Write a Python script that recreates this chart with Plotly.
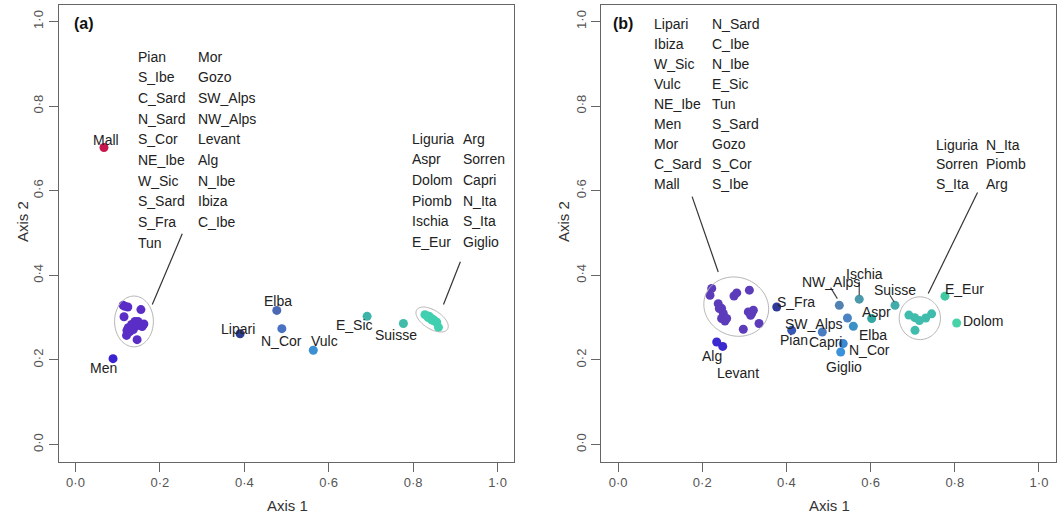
import math
import plotly.graph_objects as go

# ---------------- Panel (a) data ----------------
# western cluster (names listed in the two-column key)
A_WEST_NAMES = ["Pian", "S_Ibe", "C_Sard", "N_Sard", "S_Cor", "NE_Ibe", "W_Sic", "S_Sard", "S_Fra", "Tun",
                "Mor", "Gozo", "SW_Alps", "NW_Alps", "Levant", "Alg", "N_Ibe", "Ibiza", "C_Ibe"]
A_WEST_X = [0.113, 0.124, 0.155, 0.115, 0.141, 0.133, 0.153, 0.162, 0.125, 0.121,
            0.146, 0.137, 0.143, 0.129, 0.148, 0.117, 0.122, 0.158, 0.139]
A_WEST_Y = [0.329, 0.325, 0.319, 0.302, 0.291, 0.284, 0.284, 0.285, 0.276, 0.258,
            0.248, 0.272, 0.280, 0.267, 0.291, 0.327, 0.270, 0.279, 0.278]

# eastern cluster
A_EAST_NAMES = ["Liguria", "Aspr", "Dolom", "Piomb", "Ischia", "E_Eur",
                "Arg", "Sorren", "Capri", "N_Ita", "S_Ita", "Giglio"]
A_EAST_X = [0.828, 0.836, 0.840, 0.845, 0.850, 0.856, 0.860, 0.833, 0.842, 0.852, 0.838, 0.847]
A_EAST_Y = [0.307, 0.300, 0.300, 0.294, 0.293, 0.289, 0.277, 0.304, 0.298, 0.291, 0.303, 0.296]

# individually labelled populations
A_SINGLE_NAMES = ["Mall", "Men", "Lipari", "Elba", "N_Cor", "Vulc", "E_Sic", "Suisse"]
A_SINGLE_X = [0.0675, 0.089, 0.390, 0.477, 0.489, 0.5635, 0.691, 0.777]
A_SINGLE_Y = [0.702, 0.203, 0.262, 0.317, 0.274, 0.223, 0.303, 0.286]
A_SINGLE_COLORS = ["#c8184e", "#3a22d2", "#2c3c94", "#4a68b4", "#4a72c2", "#3a90d2", "#3fb4a8", "#40bca8"]

# ---------------- Panel (b) data ----------------
B_WEST_NAMES = ["Lipari", "Ibiza", "W_Sic", "Vulc", "NE_Ibe", "Men", "Mor", "C_Sard", "Mall",
                "N_Sard", "C_Ibe", "N_Ibe", "E_Sic", "Tun", "S_Sard", "Gozo", "S_Cor", "S_Ibe"]
B_WEST_X = [0.2226, 0.2185, 0.238, 0.246, 0.250, 0.254, 0.246, 0.2755, 0.282,
            0.312, 0.3095, 0.3175, 0.3215, 0.335, 0.2976, 0.2406, 0.258, 0.315]
B_WEST_Y = [0.369, 0.353, 0.333, 0.322, 0.310, 0.292, 0.298, 0.351, 0.3585,
            0.365, 0.3135, 0.310, 0.3175, 0.286, 0.2725, 0.3216, 0.298, 0.3057]

B_EAST_NAMES = ["Liguria", "Sorren", "S_Ita", "N_Ita", "Piomb", "Arg"]
B_EAST_X = [0.691, 0.705, 0.716, 0.731, 0.745, 0.7055]
B_EAST_Y = [0.306, 0.300, 0.293, 0.299, 0.309, 0.270]

B_SINGLE_NAMES = ["S_Fra", "Alg", "Levant", "Pian", "Capri", "SW_Alps", "NW_Alps", "Ischia",
                  "Suisse", "Aspr", "Elba", "N_Cor", "Giglio", "E_Eur", "Dolom"]
B_SINGLE_X = [0.377, 0.2344, 0.2487, 0.4126, 0.4853, 0.545, 0.5257, 0.573,
              0.658, 0.6026, 0.559, 0.535, 0.529, 0.7767, 0.8045]
B_SINGLE_Y = [0.325, 0.2424, 0.232, 0.270, 0.266, 0.299, 0.329, 0.3436,
              0.329, 0.298, 0.2796, 0.2386, 0.2187, 0.3507, 0.2874]
B_SINGLE_COLORS = ["#2f3a98", "#3a2ad0", "#3a2ad0", "#3858b8", "#4a7cc2", "#4a84c2", "#5282b2", "#4a9aac",
                   "#42acaa", "#32a8a2", "#3c90c8", "#3a88d2", "#3a92da", "#42c8a2", "#48d2aa"]

# axis ticks
TICK_VALS = [0.0, 0.2, 0.4, 0.6, 0.8, 1.0]
TICK_TEXT = ["0·0", "0·2", "0·4", "0·6", "0·8", "1·0"]

# ---------------- styling ----------------
FONT = "Liberation Sans, Arial, sans-serif"
TEXT_COL = "#222222"
AXIS_COL = "#666666"
W, H = 1059, 521

A_WEST_COL = "#5a2ec6"
A_EAST_COL = "#40d0b0"
B_WEST_COL = "#5c3cba"
B_EAST_COL = "#40bcac"

# pixel offsets of point labels (dx right, dy down)
A_LABEL_OFFSETS = {"Mall": (2, -8), "Men": (-10, 9), "Lipari": (-2, -5), "Elba": (1, -9),
                   "N_Cor": (0, 12.5), "Vulc": (11, -9), "E_Sic": (-12.5, 9), "Suisse": (-7, 11)}
B_LABEL_OFFSETS = {"S_Fra": (19, -5), "Alg": (-5, 14), "Levant": (15.5, 26.5), "Pian": (2, 10),
                   "Capri": (3, 10), "SW_Alps": (-33, 5.5), "NW_Alps": (-8, -23), "Ischia": (5.5, -25.5),
                   "Suisse": (0, -15), "Aspr": (5, -6.5), "Elba": (20, 8.3), "N_Cor": (26.5, 6.7),
                   "Giglio": (3, 15), "E_Eur": (20, -7), "Dolom": (26, -2)}


def px_domain(lo, hi, total, flip=False):
    if flip:
        return [(total - hi) / total, (total - lo) / total]
    return [lo / total, hi / total]


fig = go.Figure()


def add_points(xs, ys, names, colors, xa, ya):
    fig.add_trace(go.Scatter(x=xs, y=ys, mode="markers", text=names,
                             hovertemplate="%{text}<extra></extra>",
                             marker=dict(size=9, color=colors, line=dict(width=0)),
                             xaxis=xa, yaxis=ya, showlegend=False))


add_points(A_WEST_X, A_WEST_Y, A_WEST_NAMES, A_WEST_COL, "x", "y")
add_points(A_EAST_X, A_EAST_Y, A_EAST_NAMES, A_EAST_COL, "x", "y")
add_points(A_SINGLE_X, A_SINGLE_Y, A_SINGLE_NAMES, A_SINGLE_COLORS, "x", "y")
add_points(B_WEST_X, B_WEST_Y, B_WEST_NAMES, B_WEST_COL, "x2", "y2")
add_points(B_EAST_X, B_EAST_Y, B_EAST_NAMES, B_EAST_COL, "x2", "y2")
add_points(B_SINGLE_X, B_SINGLE_Y, B_SINGLE_NAMES, B_SINGLE_COLORS, "x2", "y2")

annotations = []
shapes = []


def point_labels(names, xs, ys, offsets, xr, yr):
    for n, x, y in zip(names, xs, ys):
        dx, dy = offsets[n]
        annotations.append(dict(x=x, y=y, xref=xr, yref=yr, text=n, showarrow=False,
                                xshift=dx, yshift=-dy, xanchor="center", yanchor="middle",
                                font=dict(family=FONT, size=14, color=TEXT_COL)))


point_labels(A_SINGLE_NAMES, A_SINGLE_X, A_SINGLE_Y, A_LABEL_OFFSETS, "x", "y")
point_labels(B_SINGLE_NAMES, B_SINGLE_X, B_SINGLE_Y, B_LABEL_OFFSETS, "x2", "y2")


def name_key(names, x0, x1, ytop, dy, xr, yr):
    rows = (len(names) + 1) // 2
    for i, n in enumerate(names):
        col, row = divmod(i, rows)
        annotations.append(dict(x=x0 if col == 0 else x1, y=ytop - row * dy, xref=xr, yref=yr,
                                text=n, showarrow=False, xanchor="left", yanchor="middle",
                                font=dict(family=FONT, size=14, color=TEXT_COL)))


name_key(A_WEST_NAMES, 0.143, 0.285, 0.917, 0.0489, "x", "y")
name_key(A_EAST_NAMES, 0.793, 0.913, 0.723, 0.0489, "x", "y")
name_key(B_WEST_NAMES, 0.080, 0.2185, 0.995, 0.0474, "x2", "y2")
name_key(B_EAST_NAMES, 0.7506, 0.869, 0.7085, 0.0466, "x2", "y2")


def leader(x0, y0, x1, y1, xr, yr, col="#333333"):
    shapes.append(dict(type="line", x0=x0, y0=y0, x1=x1, y1=y1, xref=xr, yref=yr,
                       line=dict(color=col, width=1.2)))


leader(0.253, 0.498, 0.182, 0.331, "x", "y")
leader(0.912, 0.432, 0.872, 0.331, "x", "y")
leader(0.176, 0.586, 0.238, 0.408, "x2", "y2")
leader(0.854, 0.5955, 0.737, 0.357, "x2", "y2")
leader(0.505, 0.371, 0.521, 0.345, "x2", "y2", "#444444")
leader(0.573, 0.385, 0.573, 0.353, "x2", "y2", "#444444")
leader(0.646, 0.353, 0.656, 0.337, "x2", "y2", "#444444")


def ellipse(cx, cy, a, b, ang, xr, yr, n=90):
    t = math.radians(ang)
    pts = []
    for k in range(n + 1):
        s = 2 * math.pi * k / n
        ex, ey = a * math.cos(s), b * math.sin(s)
        pts.append((cx + ex * math.cos(t) - ey * math.sin(t), cy + ex * math.sin(t) + ey * math.cos(t)))
    path = "M " + " L ".join(f"{x:.5f},{y:.5f}" for x, y in pts) + " Z"
    shapes.append(dict(type="path", path=path, xref=xr, yref=yr,
                       line=dict(color="#b4b4b4", width=1)))


ellipse(0.1386, 0.291, 0.046, 0.060, 0, "x", "y")
ellipse(0.845, 0.2955, 0.043, 0.022, -32, "x", "y")
ellipse(0.2808, 0.326, 0.078, 0.069, -20, "x2", "y2")
ellipse(0.717, 0.2986, 0.049, 0.0505, 0, "x2", "y2")

# panel letters
annotations.append(dict(x=-0.009, y=0.995, xref="x", yref="y", text="<b>(a)</b>", showarrow=False,
                        xanchor="left", yanchor="middle", font=dict(family=FONT, size=16, color="#111")))
annotations.append(dict(x=-0.0173, y=0.995, xref="x2", yref="y2", text="<b>(b)</b>", showarrow=False,
                        xanchor="left", yanchor="middle", font=dict(family=FONT, size=16, color="#111")))

# axis titles
for cx in (287, 829):
    annotations.append(dict(x=cx / W, y=(H - 505) / H, xref="paper", yref="paper", text="Axis 1",
                            showarrow=False, xanchor="center", yanchor="middle",
                            font=dict(family=FONT, size=15, color="#333")))
for cx in (23, 564):
    annotations.append(dict(x=cx / W, y=(H - 222) / H, xref="paper", yref="paper", text="Axis 2",
                            showarrow=False, xanchor="center", yanchor="middle", textangle=-90,
                            font=dict(family=FONT, size=15, color="#333")))

axis_common = dict(range=[-0.04, 1.04], showgrid=False, zeroline=False, showline=True, mirror=True,
                   linecolor=AXIS_COL, linewidth=1, ticks="outside", ticklen=9, tickwidth=1,
                   tickcolor=AXIS_COL, tickvals=TICK_VALS, ticktext=TICK_TEXT,
                   tickfont=dict(family=FONT, size=13, color="#555"))

ydom = px_domain(4.5, 461.5, H, flip=True)
fig.update_layout(
    width=W, height=H, margin=dict(l=0, r=0, t=0, b=0),
    paper_bgcolor="white", plot_bgcolor="white",
    xaxis=dict(domain=px_domain(58.6, 514.4, W), anchor="y", **axis_common),
    yaxis=dict(domain=ydom, anchor="x", tickangle=-90, **axis_common),
    xaxis2=dict(domain=px_domain(601.2, 1055.8, W), anchor="y2", **axis_common),
    yaxis2=dict(domain=ydom, anchor="x2", tickangle=-90, **axis_common),
    annotations=annotations, shapes=shapes,
)

fig.write_html("out.html")
